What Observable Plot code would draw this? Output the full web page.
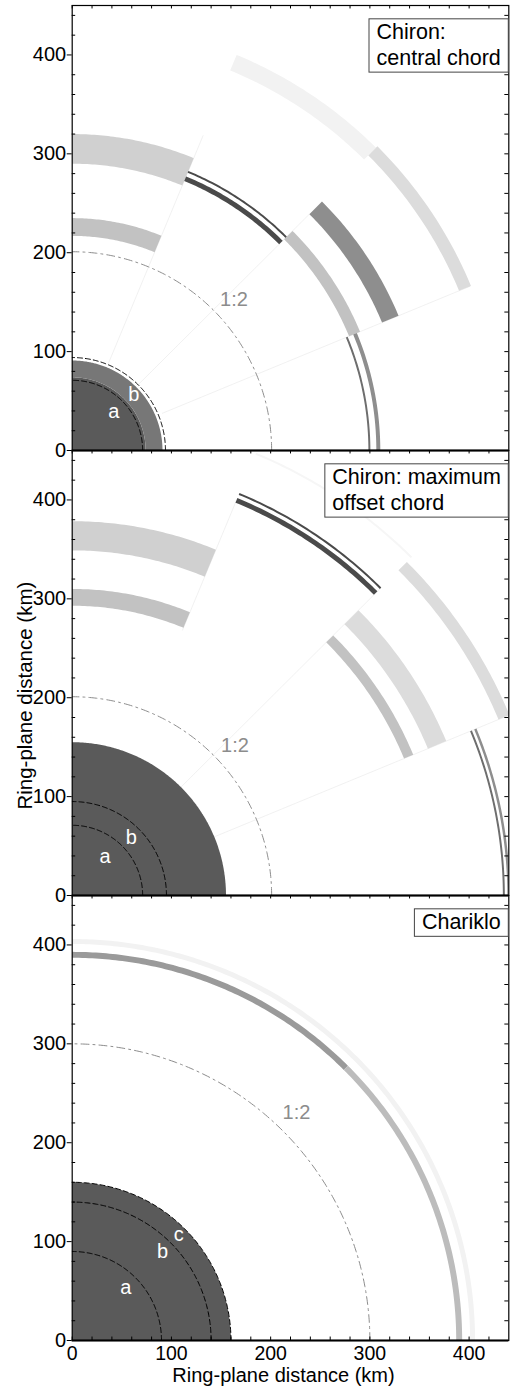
<!DOCTYPE html>
<html>
<head>
<meta charset="utf-8">
<script src="https://cdn.jsdelivr.net/npm/d3@7"></script>
<script src="https://cdn.jsdelivr.net/npm/@observablehq/plot@0.6"></script>
<style>
  html, body { margin: 0; padding: 0; background: #fff; }
  #chart { width: 520px; height: 1387px; }
</style>
</head>
<body>
<div id="chart"></div>
<script>
// Panels, top to bottom
const panelKeys = ["central", "offset", "chariklo"];
const panelTitles = ["Chiron:\ncentral chord", "Chiron: maximum\noffset chord", "Chariklo"];

// Axis ticks (km)
const majorTicks = [0, 100, 200, 300, 400];
const minorTicks = [20, 40, 60, 80, 120, 140, 160, 180, 220, 240, 260, 280, 320, 340, 360, 380, 420, 440];

// Grey tones used for the solid features
const toneLevels = [1, 2, 3, 4, 5, 6, 7, 8, 9, 10, 11, 12];
const toneGreys = ["#4a4a4a", "#5a5a5a", "#6e6e6e", "#777777", "#8e8e8e", "#9a9a9a",
                   "#bcbcbc", "#c2c2c2", "#d0d0d0", "#dcdcdc", "#f2f2f2", "#f6f6f6"];

// Solid bodies (quarter discs / annulus): radii in km
const bodyPanel = ["central", "central", "offset", "chariklo"];
const bodyInner = [0, 74, 0, 0];
const bodyOuter = [74, 91, 155, 160];
const bodyTone = [2, 4, 2, 2];

// Ring features: inner/outer radius (km), azimuth span (deg), tone
const ringPanel = [
  "central", "central", "central", "central", "central", "central", "central", "central", "central", "central",
  "offset", "offset", "offset", "offset", "offset", "offset", "offset", "offset", "offset", "offset",
  "chariklo", "chariklo", "chariklo"];
const ringInner = [217, 290, 295, 304, 416, 302, 338, 422, 298.5, 306.5,
                   293, 349, 430, 438.5, 482.5, 362, 388, 465, 434, 438.5,
                   387, 387, 401];
const ringOuter = [235, 320, 300, 306, 433, 314, 356, 435, 300.5, 310.5,
                   310, 378.5, 435, 440.5, 484.5, 372, 408, 477, 436, 441,
                   393, 393, 406];
const ringFrom = [67.5, 67.5, 45, 45, 45, 22.5, 22.5, 22.5, 0, 0,
                  67.5, 67.5, 45, 45, 45, 22.5, 22.5, 22.5, 0, 0,
                  45, 0, 0];
const ringTo = [90, 90, 67.5, 67.5, 67.5, 45, 45, 45, 22.5, 22.5,
                90, 90, 67.5, 67.5, 67.5, 45, 45, 45, 22.5, 22.5,
                90, 45, 90];
const ringTone = [8, 9, 1, 1, 11, 8, 5, 10, 3, 5,
                  8, 9, 1, 1, 12, 8, 10, 10, 3, 5,
                  6, 7, 11];

// Sector boundaries between chord solutions: azimuth (deg), radial extent (km)
const seamPanel = ["central", "central", "central", "offset", "offset", "offset"];
const seamAngle = [67.5, 45, 22.5, 67.5, 45, 22.5];
const seamFrom = [95, 95, 98, 290, 155, 155];
const seamTo = [345, 338, 434, 432, 440, 476];

// Dashed reference circles (a, b, c) and their label positions (km)
const circlePanel = ["central", "central", "offset", "offset", "chariklo", "chariklo", "chariklo"];
const circleName = ["a", "b", "a", "b", "a", "b", "c"];
const circleRadius = [71, 94, 71, 95, 90, 140, 160];
const circleLabelX = [42, 62, 33, 59.5, 54, 91, 107.5];
const circleLabelY = [39.5, 56.5, 39.5, 58.5, 53, 90, 107];

// 1:2 spin-orbit resonance
const resonancePanel = ["central", "offset", "chariklo"];
const resonanceName = ["1:2", "1:2", "1:2"];
const resonanceRadius = [201, 201, 300];
const resonanceLabelX = [163, 164, 226];
const resonanceLabelY = [152.5, 151.5, 230];

const rad = Math.PI / 180;

// Outline of an annular sector as a closed polygon (outer arc out, inner arc back)
function sectorOutline(row) {
  const n = Math.max(2, Math.ceil(Math.abs(row.to - row.from) / 0.5));
  const pts = [];
  for (let i = 0; i <= n; i++) {
    const a = (row.from + (row.to - row.from) * i / n) * rad;
    pts.push({id: row.id, panel: row.panel, tone: row.tone, x: row.outer * Math.cos(a), y: row.outer * Math.sin(a)});
  }
  for (let i = n; i >= 0; i--) {
    const a = (row.from + (row.to - row.from) * i / n) * rad;
    pts.push({id: row.id, panel: row.panel, tone: row.tone, x: row.inner * Math.cos(a), y: row.inner * Math.sin(a)});
  }
  return pts;
}

// Quarter-circle polyline of radius r
function quarterArc(id, panel, r) {
  const pts = [];
  for (let i = 0; i <= 180; i++) {
    const a = (i / 2) * rad;
    pts.push({id, panel, x: r * Math.cos(a), y: r * Math.sin(a)});
  }
  return pts;
}

const ringRows = ringPanel.map((panel, i) => ({
  id: "ring" + i, panel, inner: ringInner[i], outer: ringOuter[i], from: ringFrom[i], to: ringTo[i], tone: ringTone[i]
}));
const bodyRows = bodyPanel.map((panel, i) => ({
  id: "body" + i, panel, inner: bodyInner[i], outer: bodyOuter[i], from: 0, to: 90, tone: bodyTone[i]
}));
const ringPoints = ringRows.flatMap(sectorOutline);
const bodyPoints = bodyRows.flatMap(sectorOutline);

const seamRows = seamPanel.map((panel, i) => ({panel, angle: seamAngle[i], from: seamFrom[i], to: seamTo[i]}));
const circleRows = circlePanel.map((panel, i) => ({panel, name: circleName[i], r: circleRadius[i], lx: circleLabelX[i], ly: circleLabelY[i]}));
const circlePoints = circleRows.flatMap((c, i) => quarterArc("c" + i, c.panel, c.r));
const resonanceRows = resonancePanel.map((panel, i) => ({panel, name: resonanceName[i], r: resonanceRadius[i], lx: resonanceLabelX[i], ly: resonanceLabelY[i]}));
const resonancePoints = resonanceRows.flatMap((c, i) => quarterArc("res" + i, c.panel, c.r));
const titleRows = panelKeys.map((panel, i) => ({panel, title: panelTitles[i]}));

const allTicks = [...majorTicks, ...minorTicks].sort((a, b) => a - b);
const xAll = allTicks.filter(v => v < 440);

const chart = Plot.plot({
  width: 520,
  height: 1387,
  marginTop: 5,
  marginBottom: 46.3,
  marginLeft: 71.7,
  marginRight: 11.7,
  style: {fontFamily: "'Liberation Sans', Arial, sans-serif", background: "#fff", color: "#000"},
  x: {domain: [0, 440], axis: null},
  y: {domain: [0, 450], axis: null},
  fy: {domain: panelKeys, axis: null, padding: 0},
  color: {type: "ordinal", domain: toneLevels, range: toneGreys},
  marks: [
    // faint sector boundaries
    Plot.link(seamRows, {
      x1: d => d.from * Math.cos(d.angle * rad), y1: d => d.from * Math.sin(d.angle * rad),
      x2: d => d.to * Math.cos(d.angle * rad), y2: d => d.to * Math.sin(d.angle * rad),
      fy: "panel", stroke: "#e8e8e8", strokeWidth: 0.6, clip: true
    }),
    // ring arcs
    Plot.line(ringPoints, {x: "x", y: "y", z: "id", fy: "panel", fill: "tone", stroke: "none", clip: true}),
    // bodies
    Plot.line(bodyPoints, {x: "x", y: "y", z: "id", fy: "panel", fill: "tone", stroke: "none", clip: true}),
    // reference circles
    Plot.line(circlePoints, {x: "x", y: "y", z: "id", fy: "panel", stroke: "#000", strokeWidth: 1, strokeDasharray: "5,3", clip: true}),
    Plot.line(resonancePoints, {x: "x", y: "y", z: "id", fy: "panel", stroke: "#8c8c8c", strokeWidth: 1, strokeDasharray: "8,4,2,4", clip: true}),
    Plot.text(circleRows, {x: "lx", y: "ly", text: "name", fy: "panel", fill: "#fff", fontSize: 20}),
    Plot.text(resonanceRows, {x: "lx", y: "ly", text: "name", fy: "panel", fill: "#8c8c8c", fontSize: 20}),
    // frame, ticks
    Plot.frame({stroke: "#000", strokeWidth: 1.2}),
    Plot.ruleY([0], {stroke: "#000", strokeWidth: 2}),
    Plot.ruleY(majorTicks, {y: d => d, x1: () => -5, x2: () => 0, stroke: "#000"}),
    Plot.ruleY(minorTicks, {y: d => d, x1: () => 0, x2: () => 3.5, stroke: "#000"}),
    Plot.ruleY(allTicks, {y: d => d, x1: () => 436, x2: () => 440, stroke: "#000"}),
    Plot.ruleX(xAll, {x: d => d, y1: () => 446.5, y2: () => 450, stroke: "#000"}),
    Plot.ruleX(xAll, {x: d => d, y1: () => 0, y2: () => 3.5, fy: () => "chariklo", stroke: "#000"}),
    // tick labels
    Plot.text(majorTicks, {x: () => 0, y: d => d, text: d => String(d), textAnchor: "end", lineAnchor: "middle", dx: -6, fontSize: 20, fill: "#000"}),
    Plot.text(majorTicks, {x: d => d, y: () => 0, text: d => String(d), fy: () => "chariklo", textAnchor: "middle", lineAnchor: "middle", dy: 12.8, fontSize: 19.5, fill: "#000"}),
    // axis titles
    Plot.text(["Ring-plane distance (km)"], {frameAnchor: "left", text: d => d, fy: () => "offset", textAnchor: "middle", lineAnchor: "middle", rotate: -90, dx: -46.7, dy: 22.6, fontSize: 20.5, fill: "#000"}),
    Plot.text(["Ring-plane distance (km)"], {frameAnchor: "bottom", text: d => d, fy: () => "chariklo", textAnchor: "middle", lineAnchor: "middle", dx: -7, dy: 35.2, fontSize: 20, fill: "#000"}),
    // panel titles
    Plot.text(titleRows, {
      frameAnchor: "top-right", text: "title", fy: "panel", textAnchor: "end", lineAnchor: "top",
      dx: -8, dy: 15, fontSize: 21.5, lineHeight: 1.2, fill: "#000"
    })
  ]
});

document.getElementById("chart").append(chart);

// Boxed panel titles: left-align the lines and draw a frame around each title
const titleSet = new Set(panelTitles.map(t => t.replace(/\n/g, "")));
d3.select(chart).selectAll("text").filter(function () { return titleSet.has(this.textContent); }).each(function () {
  const w = this.getBBox().width;
  this.setAttribute("text-anchor", "start");
  d3.select(this).selectAll("tspan").attr("text-anchor", "start");
  this.setAttribute("transform", (this.getAttribute("transform") || "") + ` translate(${-w},0)`);
  const bb = this.getBBox();
  const box = document.createElementNS("http://www.w3.org/2000/svg", "rect");
  box.setAttribute("transform", this.getAttribute("transform"));
  box.setAttribute("x", bb.x - 7.5);
  box.setAttribute("y", bb.y - 1);
  box.setAttribute("width", bb.width + 15);
  box.setAttribute("height", bb.height + 3.5);
  box.setAttribute("fill", "#fff");
  box.setAttribute("stroke", "#444");
  box.setAttribute("stroke-width", 1);
  this.parentNode.insertBefore(box, this);
});
</script>
</body>
</html>
